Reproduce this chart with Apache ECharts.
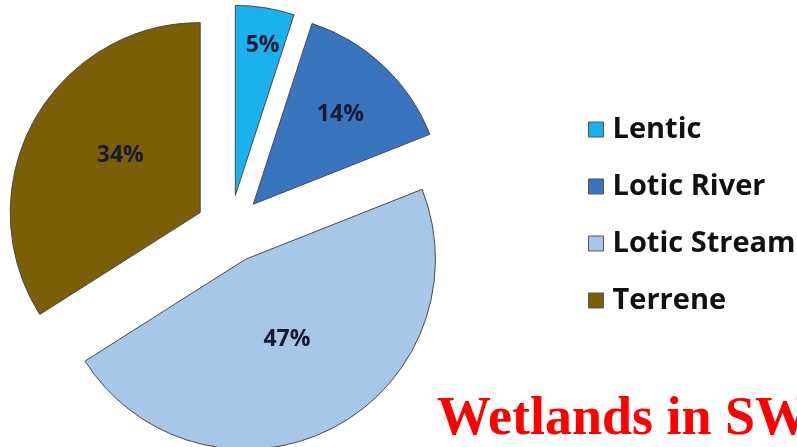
<!DOCTYPE html>
<html>
<head>
<meta charset="utf-8">
<script src="https://cdn.jsdelivr.net/npm/echarts@6/dist/echarts.min.js"></script>
<style>
html,body{margin:0;padding:0;background:#fff;}
#chart{width:797px;height:447px;}
</style>
</head>
<body>
<div id="chart"></div>
<script>
const categories = ['Lentic', 'Lotic River', 'Lotic Stream', 'Terrene'];
const shares = [5, 14, 47, 34];
const titleText = 'Wetlands in SW';

const colors = ['#1BB1EC', '#3875BE', '#A7C7E8', '#7B5E08'];
const labelShift = [[12, -53], [20, -18], [-3, -7], [6, -10]];

const chart = echarts.init(document.getElementById('chart'));
chart.setOption({
  backgroundColor: '#ffffff',
  animation: false,
  title: {
    text: titleText,
    left: 432,
    top: 388,
    textStyle: {
      fontFamily: 'Liberation Serif',
      fontWeight: 'bold',
      fontSize: 54,
      color: '#ff0000'
    }
  },
  legend: {
    orient: 'vertical',
    left: 583,
    top: 110,
    itemWidth: 15,
    itemHeight: 15,
    itemGap: 28,
    icon: 'rect',
    selectedMode: false,
    data: categories,
    itemStyle: { borderColor: '#555', borderWidth: 1 },
    textStyle: {
      fontFamily: 'Open Sans',
      fontWeight: 'bold',
      fontSize: 29,
      color: '#111',
      padding: [0, 0, 0, 4]
    }
  },
  series: [{
    type: 'pie',
    center: [230, 229],
    radius: [0, 190],
    startAngle: 90,
    clockwise: true,
    selectedMode: 'multiple',
    selectedOffset: 34,
    silent: true,
    labelLine: { show: false },
    itemStyle: { borderColor: '#4a4a4a', borderWidth: 1 },
    label: {
      show: true,
      position: 'inside',
      formatter: '{c}%',
      fontFamily: 'Open Sans',
      fontWeight: 'bold',
      fontSize: 23,
      color: '#161a33'
    },
    labelLayout: function (params) {
      const s = labelShift[params.dataIndex];
      return { dx: s[0], dy: s[1] };
    },
    data: categories.map((name, i) => ({
      name: name,
      value: shares[i],
      selected: true,
      itemStyle: { color: colors[i] }
    }))
  }]
});
</script>
</body>
</html>
